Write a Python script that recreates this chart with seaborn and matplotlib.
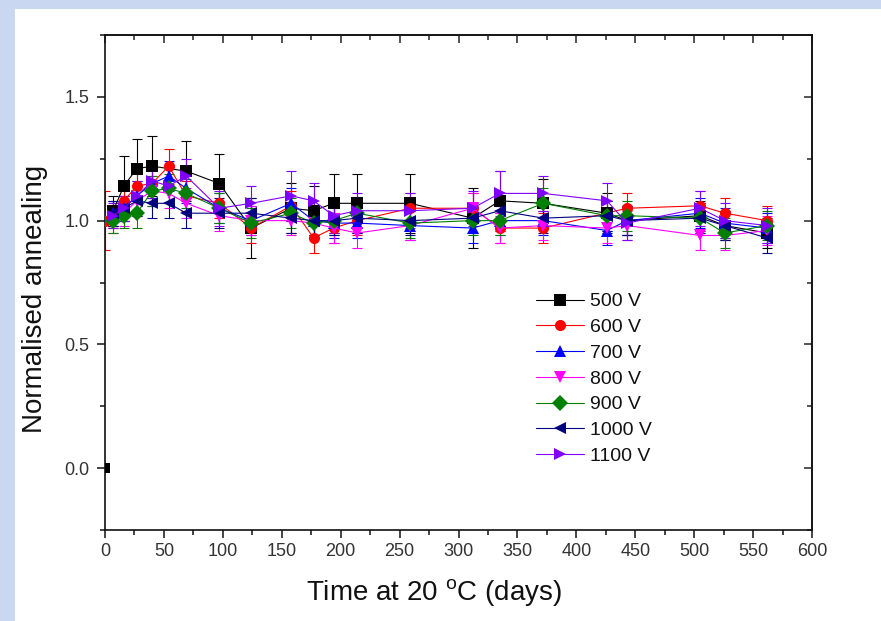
import numpy as np
import pandas as pd
import matplotlib
matplotlib.use("Agg")
import matplotlib.pyplot as plt
import matplotlib.ticker as mticker
from matplotlib.patches import Rectangle
import seaborn as sns

# ---------------- data ----------------
days = [0, 7, 16, 27, 40, 54, 69, 97, 124, 158, 177, 194, 214, 259, 312, 335, 372, 426, 443, 505, 526, 562]

series_labels = ["500 V", "600 V", "700 V", "800 V", "900 V", "1000 V", "1100 V"]

v500 = [None, 1.04, 1.14, 1.21, 1.22, None, 1.20, 1.15, 0.97, 1.05, 1.04, 1.07, 1.07, 1.07, 1.01, 1.08, 1.07, 1.03, 1.00, 1.02, 0.98, 0.95]
v600 = [1.00, 1.01, 1.08, 1.14, 1.15, 1.22, 1.10, 1.07, 0.97, 1.06, 0.93, 0.97, 1.00, 1.05, 1.05, 0.97, 0.97, None, 1.05, 1.06, 1.03, 1.00]
v700 = [None, 1.03, 1.05, 1.10, 1.15, 1.18, 1.13, 1.05, 1.00, 1.07, 1.00, 0.99, 0.99, 0.98, 0.97, 1.00, 1.00, 0.96, 1.00, 1.03, 0.99, 0.97]
v800 = [None, 1.00, 1.03, 1.08, 1.12, 1.11, 1.07, 1.02, 1.00, 1.00, 0.99, 0.97, 0.95, 0.98, 1.05, 0.97, 0.98, 0.97, 0.98, 0.94, 0.94, 0.96]
v900 = [None, 1.00, 1.02, 1.03, 1.12, 1.13, 1.11, 1.05, 0.99, 1.03, 0.99, 1.00, 1.03, 0.99, 1.00, 1.00, 1.07, 1.02, 1.02, 1.01, 0.95, 0.98]
v1000 = [None, 1.03, 1.05, 1.08, 1.07, 1.07, 1.03, 1.03, 1.03, 1.01, 1.00, 1.00, 1.01, 1.00, 1.01, 1.04, 1.01, 1.02, 1.00, 1.01, 0.98, 0.93]
v1100 = [None, 1.02, 1.05, 1.10, 1.16, 1.14, 1.18, 1.05, 1.07, 1.10, 1.08, 1.02, 1.04, 1.04, 1.05, 1.11, 1.11, 1.08, 0.99, 1.05, 1.00, 0.98]

# isolated 500 V reading at day 0 (drawn as a lone marker, not joined)
v500_day0_x = [0]
v500_day0_y = [0.0]

e500 = [None, 0.06, 0.12, 0.12, 0.12, None, 0.12, 0.12, 0.12, 0.10, 0.10, 0.12, 0.12, 0.12, 0.12, 0.12, 0.10, 0.08, 0.06, 0.06, 0.06, 0.06]
e600 = [0.12, 0.04, 0.05, 0.06, 0.06, 0.07, 0.06, 0.06, 0.06, 0.06, 0.06, 0.06, 0.06, 0.06, 0.06, 0.06, 0.06, None, 0.06, 0.06, 0.06, 0.06]
e700 = [None, 0.05, 0.05, 0.06, 0.06, 0.06, 0.06, 0.06, 0.06, 0.06, 0.06, 0.06, 0.06, 0.06, 0.06, 0.06, 0.06, 0.06, 0.06, 0.06, 0.06, 0.06]
e800 = [None, 0.05, 0.05, 0.06, 0.06, 0.06, 0.06, 0.06, 0.06, 0.06, 0.06, 0.06, 0.06, 0.06, 0.06, 0.06, 0.06, 0.06, 0.06, 0.06, 0.06, 0.06]
e900 = [None, 0.05, 0.05, 0.06, 0.06, 0.06, 0.06, 0.06, 0.06, 0.06, 0.06, 0.06, 0.06, 0.06, 0.06, 0.06, 0.06, 0.06, 0.06, 0.06, 0.06, 0.06]
e1000 = [None, 0.05, 0.05, 0.06, 0.06, 0.06, 0.06, 0.06, 0.06, 0.06, 0.06, 0.06, 0.06, 0.06, 0.06, 0.06, 0.06, 0.06, 0.06, 0.06, 0.06, 0.06]
e1100 = [None, 0.05, 0.05, 0.06, 0.07, 0.07, 0.07, 0.07, 0.07, 0.10, 0.07, 0.07, 0.07, 0.07, 0.07, 0.09, 0.07, 0.07, 0.07, 0.07, 0.07, 0.07]

values = [v500, v600, v700, v800, v900, v1000, v1100]
errors = [e500, e600, e700, e800, e900, e1000, e1100]

colors = ["#000000", "#FF0000", "#0000FF", "#FF00FF", "#008000", "#000080", "#8000FF"]
markers = ["s", "o", "^", "v", "D", "<", ">"]

rows = []
for lab, vals, errs in zip(series_labels, values, errors):
    for d, v, e in zip(days, vals, errs):
        if v is None:
            continue
        rows.append({"day": d, "value": v, "err": e, "series": lab})
df = pd.DataFrame(rows)

# ---------------- style ----------------
sns.set_style("ticks")
plt.rcParams["font.family"] = ["Liberation Sans", "DejaVu Sans"]
plt.rcParams["mathtext.default"] = "regular"

fig = plt.figure(figsize=(8.81, 6.21), dpi=100)
fig.patch.set_facecolor("white")
# slide-like light blue frame on the left and top
fig.patches.append(Rectangle((0, 0), 15 / 881, 1, transform=fig.transFigure,
                             facecolor="#C9D7F0", edgecolor="none", zorder=-10))
fig.patches.append(Rectangle((0, 1 - 9 / 621), 1, 9 / 621, transform=fig.transFigure,
                             facecolor="#C9D7F0", edgecolor="none", zorder=-10))

ax = fig.add_axes([105 / 881, 1 - 530 / 621, 707 / 881, 495 / 621])
ax.set_facecolor("white")

palette = dict(zip(series_labels, colors))
marker_map = dict(zip(series_labels, markers))

# error bars
for lab, col in zip(series_labels, colors):
    sub = df[df["series"] == lab]
    ax.errorbar(sub["day"], sub["value"], yerr=sub["err"], fmt="none", ecolor=col,
                elinewidth=0.8, capsize=3.8, capthick=0.8, zorder=2)

sns.lineplot(data=df, x="day", y="value", hue="series", style="series",
             hue_order=series_labels, style_order=series_labels,
             palette=palette, markers=marker_map, dashes=False, sort=False,
             estimator=None, linewidth=0.8, markersize=8, markeredgewidth=0,
             ax=ax, zorder=3)

sns.scatterplot(x=v500_day0_x, y=v500_day0_y, marker="s", color="#000000",
                s=60, linewidth=0, ax=ax, zorder=3, legend=False)

ax.set_xlim(0, 600)
ax.set_ylim(-0.25, 1.75)
ax.xaxis.set_major_locator(mticker.MultipleLocator(50))
ax.xaxis.set_minor_locator(mticker.MultipleLocator(25))
ax.yaxis.set_major_locator(mticker.FixedLocator([0.0, 0.5, 1.0, 1.5]))
ax.yaxis.set_minor_locator(mticker.FixedLocator([-0.25, 0.25, 0.75, 1.25, 1.75]))
ax.yaxis.set_major_formatter(mticker.FormatStrFormatter("%.1f"))

for sp in ax.spines.values():
    sp.set_visible(True)
    sp.set_linewidth(1.2)
    sp.set_color("#111111")

ax.tick_params(axis="both", which="major", direction="out", length=6, width=1.1,
               labelsize=13, colors="#111111", labelcolor="#333333")
ax.tick_params(axis="y", which="major", pad=5)
ax.tick_params(axis="both", which="minor", direction="out", length=3.5, width=1.1,
               colors="#111111")

secx = ax.secondary_xaxis("top")
secx.xaxis.set_major_locator(mticker.MultipleLocator(50))
secx.xaxis.set_minor_locator(mticker.MultipleLocator(25))
secx.tick_params(which="major", direction="in", length=6, width=1.1, labeltop=False)
secx.tick_params(which="minor", direction="in", length=3.5, width=1.1)
secx.spines["top"].set_linewidth(1.2)

secy = ax.secondary_yaxis("right")
secy.yaxis.set_major_locator(mticker.FixedLocator([0.0, 0.5, 1.0, 1.5]))
secy.yaxis.set_minor_locator(mticker.FixedLocator([-0.25, 0.25, 0.75, 1.25, 1.75]))
secy.tick_params(which="major", direction="in", length=6, width=1.1, labelright=False)
secy.tick_params(which="minor", direction="in", length=3.5, width=1.1)
secy.spines["right"].set_linewidth(1.2)

ax.set_xlabel(r"Time at 20 $^{o}$C (days)", fontsize=20, color="#111111")
ax.set_ylabel("Normalised annealing", fontsize=20, color="#111111")
ax.xaxis.set_label_coords(0.465, -0.095)
ax.yaxis.set_label_coords(-0.081, 0.467)

handles, labels = ax.get_legend_handles_labels()
for h in handles:
    h.set_markeredgewidth(0)
leg = ax.legend(handles=handles, labels=labels, loc="upper left",
                bbox_to_anchor=(0.598, 0.495), frameon=False, fontsize=14,
                handlelength=2.5, handletextpad=0.3, labelspacing=0.42, borderaxespad=0)
for t in leg.get_texts():
    t.set_color("#111111")

fig.savefig("out.png", dpi=100, facecolor=fig.get_facecolor())
